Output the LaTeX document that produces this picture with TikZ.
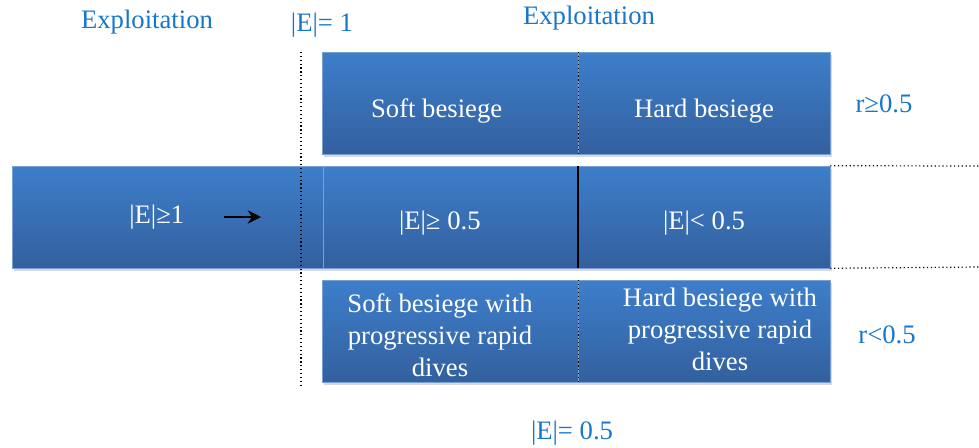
\documentclass[tikz,border=0pt]{standalone}
\usepackage{fontspec}
\setmainfont{LiberationSerif}[Extension=.ttf,UprightFont=*-Regular,BoldFont=*-Bold]
\usetikzlibrary{arrows.meta,positioning,shadows}
\definecolor{boxtop}{RGB}{61,126,202}
\definecolor{boxbot}{RGB}{51,96,158}
\definecolor{boxedge}{RGB}{120,160,212}
\definecolor{labblue}{RGB}{22,118,204}
\newcommand{\lowertext}[2]{\raisebox{#1}[0pt][0pt]{\begin{tabular}{@{}c@{}}#2\end{tabular}}}

\begin{document}
\begin{tikzpicture}[x=0.75pt,y=-0.75pt,
  blk/.style={draw=boxedge,line width=.4pt,top color=boxtop,bottom color=boxbot,minimum height=76.5pt,inner sep=0pt,text=white,align=center,font=\fontsize{20}{24}\selectfont,drop shadow={shadow xshift=1.5pt,shadow yshift=-2pt,opacity=.3}},
  lab/.style={text=labblue,font=\fontsize{20}{24}\selectfont,inner sep=0pt},
  sep/.style={black,dotted,line width=.9pt}]
\useasboundingbox (0,0) rectangle (979,447);

% upper row, r>=0.5
\node[blk,minimum width=192pt] (soft) at (450,103.5) {\lowertext{-11pt}{Soft besiege}\hspace{1em}};
\node[blk,minimum width=189pt] (hard) at (704,103.5) {\lowertext{-11pt}{Hard besiege}};

% middle row
\node[blk,minimum width=233.25pt] (far) at (167.5,217) {\lowertext{-5.5pt}{|E|≥1}\hspace{0.8em}};
\node[blk,minimum width=191.25pt] (gehalf) at (450.5,217) {\lowertext{-10pt}{|E|≥ 0.5}\hspace{0.8em}};
\node[blk,minimum width=189pt] (lthalf) at (704,217) {\lowertext{-10pt}{|E|< 0.5}};

% lower row, r<0.5
\node[blk,minimum width=192pt] (softdive) at (450,331.5) {\lowertext{-10pt}{Soft besiege with\\progressive rapid\\dives}\hspace{0.75em}};
\node[blk,minimum width=189pt] (harddive) at (704,331.5) {\hspace{1.2em}\lowertext{-6pt}{Hard besiege with\\progressive rapid\\dives}};

% labels
\node[lab] (explL) at (147,22) {Exploitation};
\node[lab] (eone) at (322,25) {|E|= 1};
\node[lab] (explR) at (589,18) {Exploitation};
\node[lab] (rge) at (884,104) {r≥0.5};
\node[lab] (rlt) at (887,335) {r<0.5};
\node[lab] (ehalf) at (572,433) {|E|= 0.5};

% separators
\coordinate (vtop) at (301,52);
\coordinate (vbot) at (301,385);
\coordinate (rtop) at (979,166);
\coordinate (rbot) at (979,267);
\draw[sep] (vtop) -- (vbot);
\draw[sep] (soft.north east) -- (soft.south east);
\draw[black,line width=1.3pt] (gehalf.north east) -- (gehalf.south east);
\draw[sep] (softdive.north east) -- (softdive.south east);
\draw[sep] (lthalf.north east) -- (rtop);
\draw[sep] (lthalf.south east) -- (rbot);

% arrow in the first block
\coordinate (atail) at (224,217);
\coordinate (ahead) at (261,217);
\draw[-{Stealth[length=10pt,width=10pt]},line width=1.5pt] (atail) -- (ahead);
\end{tikzpicture}
\end{document}
